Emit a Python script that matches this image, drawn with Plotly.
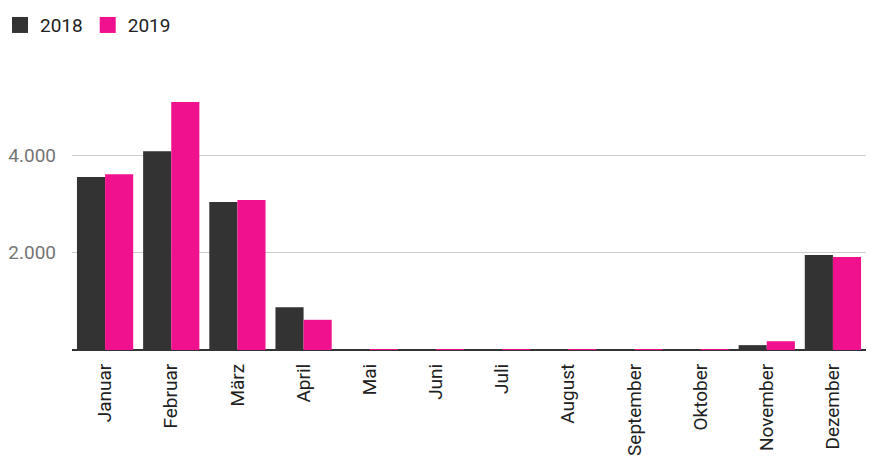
import plotly.graph_objects as go

months = ["Januar", "Februar", "März", "April", "Mai", "Juni", "Juli", "August",
          "September", "Oktober", "November", "Dezember"]
values_2018 = [3550, 4080, 3040, 880, 20, 5, 5, 5, 5, 15, 100, 1950]
values_2019 = [3610, 5090, 3080, 620, 20, 5, 5, 5, 5, 20, 180, 1910]
series_names = ["2018", "2019"]
colors = ["#333333", "#F0118F"]

fig = go.Figure()
for name, vals, col in zip(series_names, [values_2018, values_2019], colors):
    fig.add_trace(go.Bar(x=months, y=vals, name=name, marker=dict(color=col, line=dict(width=0)),
                         showlegend=False))
    fig.add_trace(go.Scatter(x=[None], y=[None], mode="markers", name=name,
                             marker=dict(symbol="square", size=24, color=col)))

fig.update_layout(
    width=873, height=470,
    margin=dict(l=72, r=7, t=87, b=120, autoexpand=False),
    paper_bgcolor="white", plot_bgcolor="white",
    font=dict(family="Roboto", size=19, color="#212121"),
    barmode="group", bargap=0.15, bargroupgap=0,
    legend=dict(orientation="h", xref="container", x=0, xanchor="left",
                yref="container", y=0.987, yanchor="top",
                font=dict(size=19, color="#212121"), itemwidth=30,
                itemsizing="trace", tracegroupgap=0),
    xaxis=dict(tickangle=-90, showgrid=False, showline=False, ticks="", automargin=False,
               tickfont=dict(size=19, color="#212121"), ticklabelstandoff=9),
    yaxis=dict(range=[0, 5400], tickvals=[0, 2000, 4000], ticktext=["", "2.000", "4.000"],
               showgrid=True, gridcolor="#CCCCCC", gridwidth=1, automargin=False,
               zeroline=True, zerolinecolor="#333333", zerolinewidth=2,
               tickfont=dict(size=19, color="#757575"), ticks="", ticklabelstandoff=15),
)

fig.write_html("out.html", config={"displayModeBar": False},
               post_script="document.body.style.margin='0';")
